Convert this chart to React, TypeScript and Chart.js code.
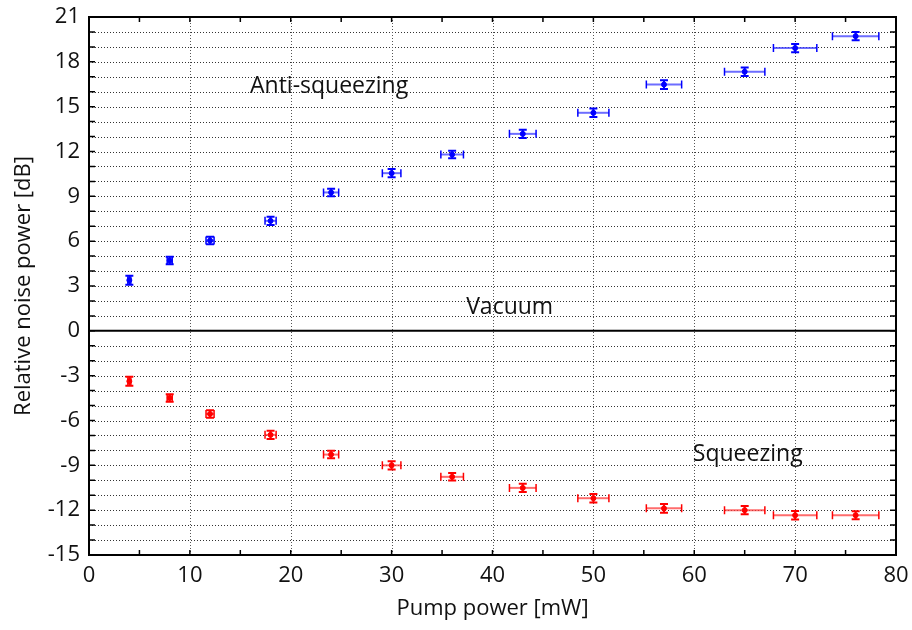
import React, { useEffect, useRef } from "react";
import { Chart, registerables } from "chart.js";

Chart.register(...registerables);

// ---- data ----
const pumpPower = [4, 8, 12, 18, 24, 30, 36, 43, 50, 57, 65, 70, 76];
const pumpPowerErr = [0.15, 0.25, 0.4, 0.55, 0.75, 0.92, 1.12, 1.32, 1.54, 1.75, 2.0, 2.15, 2.3];
const antiSqueezing = [3.39, 4.7, 6.04, 7.36, 9.26, 10.55, 11.8, 13.18, 14.59, 16.48, 17.34, 18.92, 19.72];
const antiSqueezingErr = [0.3, 0.25, 0.25, 0.28, 0.25, 0.28, 0.25, 0.28, 0.28, 0.29, 0.28, 0.28, 0.27];
const squeezing = [-3.37, -4.49, -5.56, -6.96, -8.28, -9.0, -9.77, -10.51, -11.2, -11.88, -12.0, -12.34, -12.34];
const squeezingErr = [0.3, 0.25, 0.25, 0.28, 0.25, 0.28, 0.25, 0.28, 0.28, 0.29, 0.28, 0.28, 0.27];
const labels = [
  { text: "Anti-squeezing", x: 23.8, y: 16.35 },
  { text: "Vacuum", x: 41.7, y: 1.56 },
  { text: "Squeezing", x: 65.3, y: -8.27 },
];

const FONT = "'Open Sans', 'DejaVu Sans', sans-serif";

const framePlugin = {
  id: "framePlugin",
  beforeDatasetsDraw(chart: any) {
    const { ctx, chartArea: a, scales } = chart;
    const xs = scales.x, ys = scales.y;
    ctx.save();
    // dotted grid
    ctx.setLineDash([1, 2]);
    ctx.lineWidth = 1;
    ctx.strokeStyle = "#333";
    for (let v = -14; v <= 20; v++) {
      if (v === 0) continue;
      const y = Math.round(ys.getPixelForValue(v)) + 0.5;
      ctx.beginPath();
      ctx.moveTo(a.left, y);
      ctx.lineTo(a.right, y);
      ctx.stroke();
    }
    ctx.strokeStyle = "#555";
    for (let v = 10; v <= 70; v += 10) {
      const x = Math.round(xs.getPixelForValue(v)) + 0.5;
      ctx.beginPath();
      ctx.moveTo(x, a.top);
      ctx.lineTo(x, a.bottom);
      ctx.stroke();
    }
    ctx.setLineDash([]);
    // error bars
    chart.data.datasets.forEach((ds: any) => {
      const col = ds.errColor;
      const colLight = ds.errColorLight;
      ds.data.forEach((p: any) => {
        const px = xs.getPixelForValue(p.x);
        const py = ys.getPixelForValue(p.y);
        const x1 = xs.getPixelForValue(p.x - p.xErr);
        const x2 = xs.getPixelForValue(p.x + p.xErr);
        const y1 = ys.getPixelForValue(p.y - p.yErr);
        const y2 = ys.getPixelForValue(p.y + p.yErr);
        // horizontal
        ctx.strokeStyle = colLight;
        ctx.lineWidth = 2;
        ctx.beginPath();
        ctx.moveTo(x1, py);
        ctx.lineTo(x2, py);
        ctx.stroke();
        ctx.strokeStyle = col;
        ctx.lineWidth = 1.5;
        ctx.beginPath();
        ctx.moveTo(x1, py - 4);
        ctx.lineTo(x1, py + 4);
        ctx.moveTo(x2, py - 4);
        ctx.lineTo(x2, py + 4);
        ctx.stroke();
        // vertical
        ctx.lineWidth = 2;
        ctx.beginPath();
        ctx.moveTo(px, y1);
        ctx.lineTo(px, y2);
        ctx.moveTo(px - 4, y1);
        ctx.lineTo(px + 4, y1);
        ctx.moveTo(px - 4, y2);
        ctx.lineTo(px + 4, y2);
        ctx.stroke();
      });
    });
    ctx.restore();
  },
  afterDatasetsDraw(chart: any) {
    const { ctx, chartArea: a, scales } = chart;
    const xs = scales.x, ys = scales.y;
    ctx.save();
    ctx.strokeStyle = "#000";
    // zero line
    ctx.lineWidth = 2;
    const y0 = ys.getPixelForValue(0);
    ctx.beginPath();
    ctx.moveTo(a.left, y0);
    ctx.lineTo(a.right, y0);
    ctx.stroke();
    // ticks
    ctx.lineWidth = 1.5;
    ctx.beginPath();
    for (let v = -15; v <= 21; v++) {
      const y = ys.getPixelForValue(v);
      ctx.moveTo(a.left, y);
      ctx.lineTo(a.left + 6, y);
      ctx.moveTo(a.right, y);
      ctx.lineTo(a.right - 6, y);
    }
    for (let v = 0; v <= 80; v += 5) {
      const x = xs.getPixelForValue(v);
      ctx.moveTo(x, a.bottom);
      ctx.lineTo(x, a.bottom - 5);
      ctx.moveTo(x, a.top);
      ctx.lineTo(x, a.top + 5);
    }
    ctx.stroke();
    // frame
    ctx.lineWidth = 2;
    ctx.strokeRect(a.left, a.top, a.right - a.left, a.bottom - a.top);
    // annotations
    ctx.fillStyle = "#111";
    ctx.font = `23px ${FONT}`;
    ctx.textAlign = "center";
    ctx.textBaseline = "middle";
    labels.forEach((l) => {
      ctx.fillText(l.text, xs.getPixelForValue(l.x), ys.getPixelForValue(l.y));
    });
    ctx.restore();
  },
};

export default function App() {
  const ref = useRef<HTMLCanvasElement>(null);
  useEffect(() => {
    document.body.style.margin = "0";
    const mk = (ys: number[], yErr: number[]) =>
      pumpPower.map((x, i) => ({ x, y: ys[i], xErr: pumpPowerErr[i], yErr: yErr[i] }));
    const chart = new Chart(ref.current!, {
      type: "scatter",
      data: {
        datasets: [
          {
            label: "Anti-squeezing",
            data: mk(antiSqueezing, antiSqueezingErr),
            backgroundColor: "#0000ff",
            borderColor: "#0000ff",
            pointRadius: 2.5,
            errColor: "#0000ff",
            errColorLight: "rgba(60,60,255,0.75)",
          } as any,
          {
            label: "Squeezing",
            data: mk(squeezing, squeezingErr),
            backgroundColor: "#ff0000",
            borderColor: "#ff0000",
            pointRadius: 2.5,
            errColor: "#ff0000",
            errColorLight: "rgba(255,60,60,0.75)",
          } as any,
        ],
      },
      options: {
        animation: false,
        responsive: false,
        layout: { padding: { top: 17, right: 16, left: 0, bottom: 0 } },
        plugins: { legend: { display: false }, tooltip: { enabled: false } },
        scales: {
          x: {
            type: "linear",
            min: 0,
            max: 80,
            grid: { display: false, drawTicks: true, tickLength: 7 },
            border: { display: false },
            ticks: { stepSize: 10, color: "#111", font: { family: FONT, size: 22 }, padding: 1 },
            title: {
              display: true,
              text: "Pump power [mW]",
              color: "#111",
              font: { family: FONT, size: 22 },
              padding: { top: 0, bottom: 8 },
            },
            afterFit: (s: any) => {
              s.height = 75;
            },
          },
          y: {
            type: "linear",
            min: -15,
            max: 21,
            grid: { display: false, drawTicks: true, tickLength: 8 },
            border: { display: false },
            ticks: { stepSize: 3, color: "#111", font: { family: FONT, size: 22 }, padding: 1 },
            title: {
              display: true,
              text: "Relative noise power [dB]",
              color: "#111",
              font: { family: FONT, size: 22 },
              padding: { top: 11, bottom: 0 },
            },
            afterFit: (s: any) => {
              s.width = 89;
            },
          },
        },
      },
      plugins: [framePlugin],
    });
    return () => chart.destroy();
  }, []);
  return (
    <div style={{ width: 912, height: 630, background: "#fff" }}>
      <canvas ref={ref} width={912} height={630} style={{ display: "block" }} />
    </div>
  );
}
